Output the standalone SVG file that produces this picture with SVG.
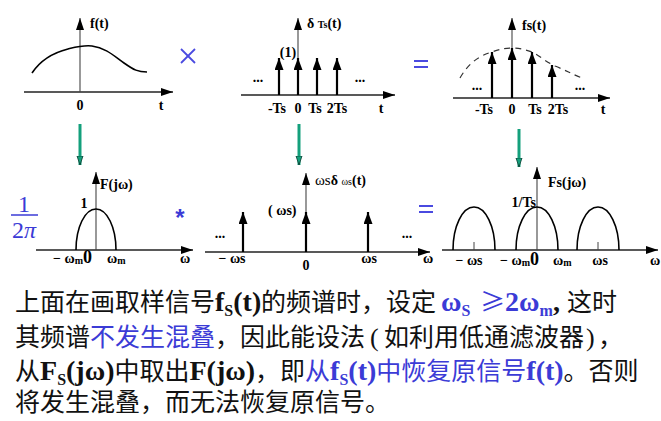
<svg xmlns="http://www.w3.org/2000/svg" width="661" height="421" viewBox="0 0 661 421">
<defs>
<marker id="ax" viewBox="0 0 12 8" refX="12" refY="4" markerWidth="12" markerHeight="8" orient="auto" markerUnits="userSpaceOnUse"><path d="M0,0 L12,4 L0,8 z" fill="#000"/></marker>
<marker id="imp" viewBox="0 0 12 9" refX="12" refY="4.5" markerWidth="12" markerHeight="9" orient="auto" markerUnits="userSpaceOnUse"><path d="M0,0 L12,4.5 L0,9 z" fill="#000"/></marker>
<marker id="gr" viewBox="0 0 10 8" refX="9" refY="4" markerWidth="10" markerHeight="8" orient="auto" markerUnits="userSpaceOnUse"><path d="M0,1 L9,4 L0,7 z" fill="#14a07c" stroke="#0b3b30" stroke-width="0.8"/></marker>
</defs>
<style>
.axis{stroke:#222;stroke-width:1.3;fill:none;marker-end:url(#ax)}
.vax{stroke:#444;stroke-width:1.1;fill:none;marker-end:url(#ax)}
.imp{stroke:#000;stroke-width:2.2;fill:none;marker-end:url(#imp)}
.curve{stroke:#000;stroke-width:1.6;fill:none}
.dash{stroke:#333;stroke-width:1.2;fill:none;stroke-dasharray:6 5}
.green{stroke:#14a07c;stroke-width:3;fill:none;marker-end:url(#gr)}
.lb{font-family:"Liberation Serif",serif;font-weight:bold;font-size:14px;fill:#000}
.sm{font-size:10px}
.big{font-size:18px}
.cn{font-family:"Noto Sans CJK SC",sans-serif;font-size:25px;font-weight:400;fill:#111}
.lt{font-family:"Liberation Serif","Noto Sans CJK SC",serif;font-weight:bold;font-size:28px}
.lts{font-family:"Liberation Serif",serif;font-weight:bold;font-size:16px}
.pa{font-family:"Liberation Serif",serif;font-size:26px}
.bl{fill:#3b3bd6}
</style>

<g id="panel-ft">
<line class="axis" x1="24" y1="92" x2="173" y2="92"/>
<line class="vax" x1="80" y1="92" x2="80" y2="18"/>
<path class="curve" d="M32,73 C42,58 56,52 68,49 C76,47 83,45 92,46 C106,48 114,56 124,63 C134,70 138,72 147,72"/>
<text class="lb" x="90" y="28" font-size="15">f(t)</text>
<text class="lb" x="80" y="110" text-anchor="middle">0</text>
<text class="lb" x="161" y="110" text-anchor="middle">t</text>
</g>

<g id="op-times" stroke="#4a4ae0" stroke-width="1.8">
<line x1="181" y1="49" x2="195" y2="63"/>
<line x1="195" y1="49" x2="181" y2="63"/>
</g>

<g id="panel-delta">
<line class="axis" x1="241" y1="95" x2="395" y2="95"/>
<line class="vax" x1="298" y1="95" x2="298" y2="18"/>
<line class="imp" x1="279" y1="95" x2="279" y2="58"/>
<line class="imp" x1="298" y1="95" x2="298" y2="58"/>
<line class="imp" x1="317" y1="95" x2="317" y2="58"/>
<line class="imp" x1="337" y1="95" x2="337" y2="58"/>
<text class="lb" x="307" y="28">δ <tspan class="sm">Ts</tspan>(t)</text>
<text class="lb" x="288" y="57" text-anchor="middle">(1)</text>
<text class="lb" x="258" y="82" text-anchor="middle">...</text>
<text class="lb" x="360" y="82" text-anchor="middle">...</text>
<text class="lb" x="277" y="113" text-anchor="middle" font-size="13">-Ts</text>
<text class="lb" x="298" y="113" text-anchor="middle" font-size="13">0</text>
<text class="lb" x="315" y="113" text-anchor="middle" font-size="13">Ts</text>
<text class="lb" x="337" y="113" text-anchor="middle" font-size="13">2Ts</text>
<text class="lb" x="381" y="113" text-anchor="middle" font-size="13">t</text>
</g>

<g id="op-eq1" stroke="#4a4ae0" stroke-width="2">
<line x1="414" y1="61" x2="428" y2="61"/>
<line x1="414" y1="67" x2="428" y2="67"/>
</g>

<g id="panel-fs">
<line class="axis" x1="453" y1="98" x2="610" y2="98"/>
<line class="vax" x1="512" y1="98" x2="512" y2="18"/>
<path class="dash" d="M460,78 C468,64 478,56 492,52 C500,49 505,48 512,48 C520,48 526,50 532,52 C540,56 546,62 555,66 C565,70 572,74 582,78"/>
<line class="imp" x1="492" y1="98" x2="492" y2="52"/>
<line class="imp" x1="512" y1="98" x2="512" y2="48"/>
<line class="imp" x1="532" y1="98" x2="532" y2="52"/>
<line class="imp" x1="552" y1="98" x2="552" y2="65"/>
<text class="lb" x="522" y="30" font-size="15">fs(t)</text>
<text class="lb" x="477" y="90" text-anchor="middle">...</text>
<text class="lb" x="580" y="90" text-anchor="middle">...</text>
<text class="lb" x="484" y="114" text-anchor="middle" font-size="13">-Ts</text>
<text class="lb" x="512" y="114" text-anchor="middle" font-size="13">0</text>
<text class="lb" x="535" y="114" text-anchor="middle" font-size="13">Ts</text>
<text class="lb" x="558" y="114" text-anchor="middle" font-size="13">2Ts</text>
<text class="lb" x="603" y="114" text-anchor="middle" font-size="13">t</text>
</g>

<g id="arrows">
<line class="green" x1="80" y1="124" x2="80" y2="165"/>
<line class="green" x1="299" y1="124" x2="299" y2="165"/>
<line class="green" x1="519" y1="129" x2="519" y2="167"/>
</g>

<g id="frac">
<text x="24" y="212" text-anchor="middle" font-family="Liberation Serif, serif" font-size="24" fill="#3b3bd6">1</text>
<line x1="11" y1="215" x2="38" y2="215" stroke="#3b3bd6" stroke-width="1.5"/>
<text x="24" y="238" text-anchor="middle" font-family="Liberation Serif, serif" font-size="24" fill="#3b3bd6">2<tspan font-style="italic">π</tspan></text>
</g>

<g id="panel-Fjw">
<line class="axis" x1="36" y1="250" x2="193" y2="250"/>
<line class="vax" x1="96" y1="250" x2="96" y2="172"/>
<path class="curve" d="M76,250 A20,41 0 0 1 116,250"/>
<text class="lb" x="100" y="189">F(jω)</text>
<text class="lb" x="84" y="208" text-anchor="middle">1</text>
<text class="lb" x="53" y="263">− ω<tspan class="sm" dy="1">m</tspan><tspan class="big" dy="-1">0</tspan></text>
<text class="lb" x="107" y="263">ω<tspan class="sm" dy="1">m</tspan></text>
<text class="lb" x="185" y="263" text-anchor="middle">ω</text>
</g>

<g id="op-conv">
<text x="180" y="226" text-anchor="middle" font-family="Liberation Sans, sans-serif" font-weight="bold" font-size="24" fill="#3b3bd6">*</text>
</g>

<g id="panel-comb">
<line class="axis" x1="205" y1="252" x2="430" y2="252"/>
<line class="vax" x1="306" y1="252" x2="306" y2="173"/>
<line class="imp" x1="243" y1="252" x2="243" y2="212"/>
<line class="imp" x1="306" y1="252" x2="306" y2="212"/>
<line class="imp" x1="368" y1="252" x2="368" y2="212"/>
<text class="lb" x="315" y="185"><tspan font-weight="normal" font-size="15">ωs</tspan>δ <tspan class="sm" font-weight="normal">ωs</tspan>(t)</text>
<text class="lb" x="268" y="215" font-weight="normal">( ωs)</text>
<text class="lb" x="220" y="238" text-anchor="middle">...</text>
<text class="lb" x="407" y="238" text-anchor="middle">...</text>
<text class="lb" x="232" y="263" text-anchor="middle" font-weight="normal">− ωs</text>
<text class="lb" x="306" y="270" text-anchor="middle">0</text>
<text class="lb" x="369" y="263" text-anchor="middle" font-weight="normal">ωs</text>
<text class="lb" x="428" y="263" text-anchor="middle">ω</text>
</g>

<g id="op-eq2" stroke="#4a4ae0" stroke-width="2">
<line x1="419" y1="206" x2="433" y2="206"/>
<line x1="419" y1="212" x2="433" y2="212"/>
</g>

<g id="panel-Fsjw">
<line class="axis" x1="442" y1="250" x2="658" y2="250"/>
<line class="vax" x1="537" y1="250" x2="537" y2="167"/>
<line x1="474" y1="242" x2="474" y2="250" stroke="#444" stroke-width="1"/>
<line x1="598" y1="242" x2="598" y2="250" stroke="#444" stroke-width="1"/>
<path class="curve" d="M453,250 A21,43 0 0 1 495,250"/>
<path class="curve" d="M516,250 A21,43 0 0 1 558,250"/>
<path class="curve" d="M577,250 A21,43 0 0 1 619,250"/>
<text class="lb" x="548" y="187">Fs(jω)</text>
<text class="lb" x="536" y="207" text-anchor="end">1/Ts</text>
<text class="lb" x="469" y="265" text-anchor="middle" font-weight="normal">− ωs</text>
<text class="lb" x="500" y="265">− ω<tspan class="sm" dy="1">m</tspan><tspan class="big" dy="-1">0</tspan></text>
<text class="lb" x="553" y="265">ω<tspan class="sm" dy="1">m</tspan></text>
<text class="lb" x="600" y="265" text-anchor="middle" font-weight="normal">ωs</text>
<text class="lb" x="655" y="265" text-anchor="middle">ω</text>
</g>

<g id="caption">
<text class="cn" y="311"><tspan x="15">上面在画取样信号</tspan><tspan class="lt">f</tspan><tspan class="lts" dy="5">S</tspan><tspan class="lt" dy="-5">(t)</tspan><tspan x="261">的频谱时，设定</tspan><tspan class="lt bl" x="441">ω</tspan><tspan class="lts bl" dy="5">S</tspan><tspan class="bl" dy="-5" x="480">≥</tspan><tspan class="lt bl">2ω</tspan><tspan class="lts bl" dy="5">m</tspan><tspan class="lt" dy="-5" x="553">,</tspan><tspan x="567">这时</tspan></text>
<text class="cn" y="346"><tspan x="15">其频谱</tspan><tspan class="bl">不发生混叠</tspan><tspan>，因此能设法</tspan><tspan class="pa" x="370">(</tspan><tspan x="384">如利用低通滤波器</tspan><tspan class="pa" x="586">)</tspan><tspan x="598">，</tspan></text>
<text class="cn" y="380"><tspan x="15">从</tspan><tspan class="lt">F</tspan><tspan class="lts" dy="5">S</tspan><tspan class="lt" dy="-5">(jω)</tspan><tspan>中取出</tspan><tspan class="lt">F(jω)</tspan><tspan>，即</tspan><tspan class="bl">从</tspan><tspan class="lt bl">f</tspan><tspan class="lts bl" dy="5">S</tspan><tspan class="lt bl" dy="-5">(t)</tspan><tspan class="bl">中恢复原信号</tspan><tspan class="lt bl">f(t)</tspan><tspan>。否则</tspan></text>
<text class="cn" x="15" y="411" textLength="375" lengthAdjust="spacing">将发生混叠，而无法恢复原信号。</text>
</g>
</svg>
